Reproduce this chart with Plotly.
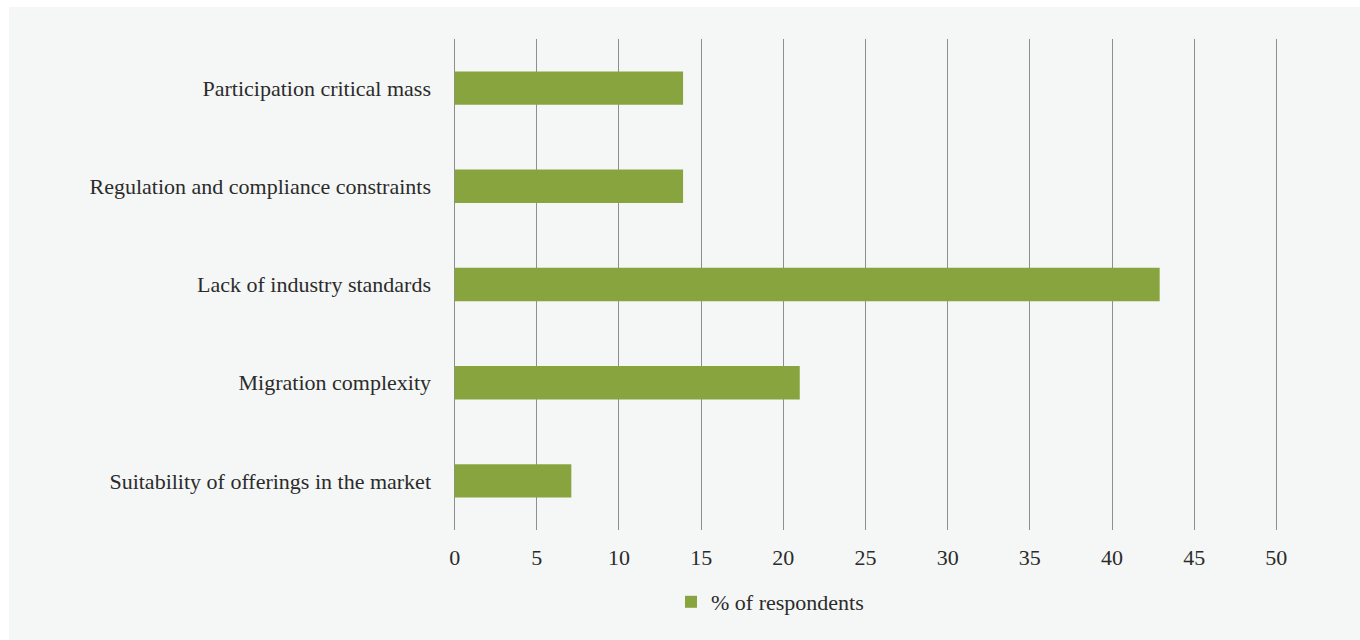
import plotly.graph_objects as go

# Survey: barriers cited, % of respondents (listed top to bottom)
categories = [
    "Participation critical mass",
    "Regulation and compliance constraints",
    "Lack of industry standards",
    "Migration complexity",
    "Suitability of offerings in the market",
]
pct_respondents = [13.9, 13.9, 42.9, 21.0, 7.1]
x_ticks = [0, 5, 10, 15, 20, 25, 30, 35, 40, 45, 50]
series_name = "% of respondents"

FONT = "Liberation Serif"
TEXT = "#2b2b2b"
GREEN = "#87a43f"
PANEL = "#f5f7f6"
GRID = "#8e8e8e"

W, H = 1360, 640
ML, MR, MT, MB = 453, 82, 39, 110
pw, ph = W - ML - MR, H - MT - MB

def px_x(p):
    return (p - ML) / pw

def px_y(p):
    return (H - MB - p) / ph

fig = go.Figure()
fig.add_trace(go.Bar(
    y=categories,
    x=pct_respondents,
    orientation="h",
    name=series_name,
    marker=dict(color=GREEN, line=dict(width=0)),
    width=0.34,
    showlegend=True,
))

fig.update_layout(
    width=W,
    height=H,
    margin=dict(l=ML, r=MR, t=MT, b=MB),
    paper_bgcolor="white",
    plot_bgcolor="rgba(0,0,0,0)",
    font=dict(family=FONT, size=22, color=TEXT),
    showlegend=True,
    legend=dict(
        orientation="h",
        x=px_x(671), xanchor="left",
        y=px_y(602), yanchor="middle",
        font=dict(family=FONT, size=22, color=TEXT),
        bgcolor="rgba(0,0,0,0)",
    ),
    xaxis=dict(
        # small padding so the gridline at 50 is not clipped at the edge
        range=[-0.1, 50.1],
        tickvals=x_ticks,
        showgrid=True,
        gridcolor=GRID,
        gridwidth=1,
        zeroline=True,
        zerolinecolor=GRID,
        zerolinewidth=1,
        showline=False,
        ticks="",
        ticklabelstandoff=12,
        tickfont=dict(family=FONT, size=22, color=TEXT),
        fixedrange=True,
    ),
    yaxis=dict(
        autorange="reversed",
        showgrid=False,
        zeroline=False,
        showline=False,
        ticks="",
        ticklabelstandoff=21,
        tickfont=dict(family=FONT, size=22, color=TEXT),
        fixedrange=True,
    ),
    shapes=[dict(
        type="rect", xref="paper", yref="paper", layer="below",
        x0=px_x(9), x1=px_x(W + 20), y0=px_y(H + 20), y1=px_y(7),
        fillcolor=PANEL, line=dict(width=0),
    )],
)

fig.write_html("out.html", config={"displayModeBar": False})
